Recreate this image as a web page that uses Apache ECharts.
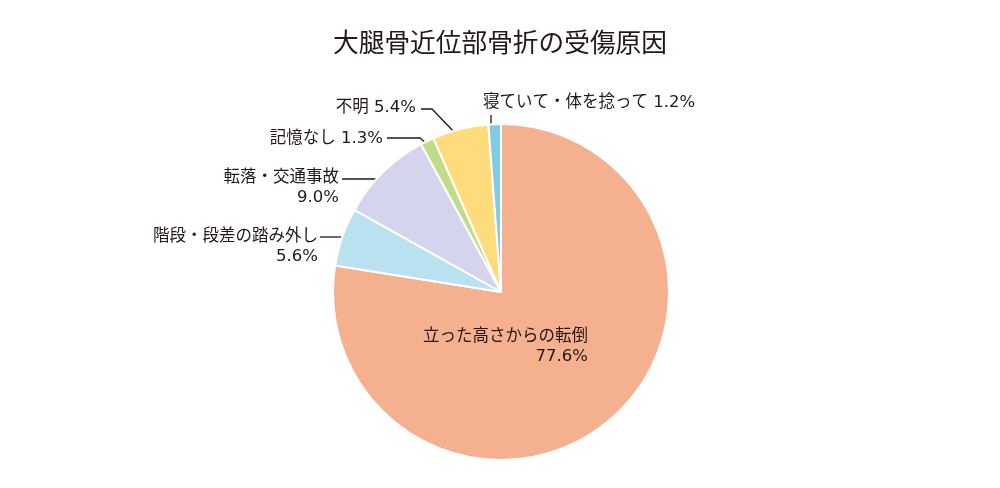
<!DOCTYPE html>
<html>
<head>
<meta charset="utf-8">
<script src="https://cdn.jsdelivr.net/npm/echarts@6/dist/echarts.min.js"></script>
<style>
  html, body { margin: 0; padding: 0; background: #fff; }
  #main { width: 1000px; height: 488px; }
</style>
</head>
<body>
<div id="main"></div>
<script>
// data, clockwise from 12 o'clock
const titleText = '大腿骨近位部骨折の受傷原因'
const names = ['立った高さからの転倒', '階段・段差の踏み外し', '転落・交通事故', '記憶なし', '不明', '寝ていて・体を捻って']
const values = [77.6, 5.6, 9.0, 1.3, 5.4, 1.2]
const labelTexts = [
  '立った高さからの転倒\n77.6%',
  '階段・段差の踏み外し\n5.6%',
  '転落・交通事故\n9.0%',
  '記憶なし 1.3%',
  '不明 5.4%',
  '寝ていて・体を捻って 1.2%',
]
const colors = ['#f5b08f', '#bae1f0', '#d4d4ec', '#c1dc87', '#fedb7b', '#7fcce3']

// label placement: x, y, align, vAlign, leader line points (pie -> label)
const labelPos = [
  { x: 588, y: 327, align: 'right', v: 'top', line: null },
  { x: 318, y: 227, align: 'right', v: 'top', line: [[349, 237], [335, 237], [320, 237]] },
  { x: 339, y: 168, align: 'right', v: 'top', line: [[387, 179], [365, 179], [342, 179]] },
  { x: 383, y: 139, align: 'right', v: 'middle', line: [[428, 145], [420, 138], [387, 138]] },
  { x: 416, y: 108, align: 'right', v: 'middle', line: [[456, 134], [432, 109], [421, 109]] },
  { x: 483, y: 103, align: 'left', v: 'middle', line: [[491, 129], [491, 122], [491, 115]] },
]

const font = '"Noto Sans CJK JP", "Noto Sans", sans-serif'
const labelFont = '"DejaVu Sans", "Noto Sans CJK JP", sans-serif'

const data = values.map((v, i) => ({
  name: names[i],
  value: v,
  itemStyle: { color: colors[i] },
  label: {
    position: i === 0 ? 'inside' : 'outside',
    formatter: labelTexts[i],
  },
  labelLine: { show: i !== 0 },
}))

const c = echarts.init(document.getElementById('main'))
c.setOption({
  animation: false,
  textStyle: { fontFamily: font },
  title: {
    text: titleText,
    left: 'center',
    top: 24,
    textStyle: { fontFamily: font, fontSize: 25.7, fontWeight: 'normal', color: '#231815' },
  },
  series: [
    {
      type: 'pie',
      center: [501, 292],
      radius: 168,
      startAngle: 90,
      clockwise: true,
      avoidLabelOverlap: false,
      itemStyle: { borderColor: '#fff', borderWidth: 2 },
      label: {
        fontFamily: labelFont,
        fontSize: 16.5,
        lineHeight: 20,
        color: '#231815',
        align: 'right',
      },
      labelLine: {
        lineStyle: { color: '#231815', width: 1.3 },
      },
      labelLayout: (params) => {
        const p = labelPos[params.dataIndex]
        const out = { x: p.x, y: p.y, align: p.align, verticalAlign: p.v }
        if (p.line) out.labelLinePoints = p.line
        return out
      },
      data: data,
    },
  ],
})
</script>
</body>
</html>
